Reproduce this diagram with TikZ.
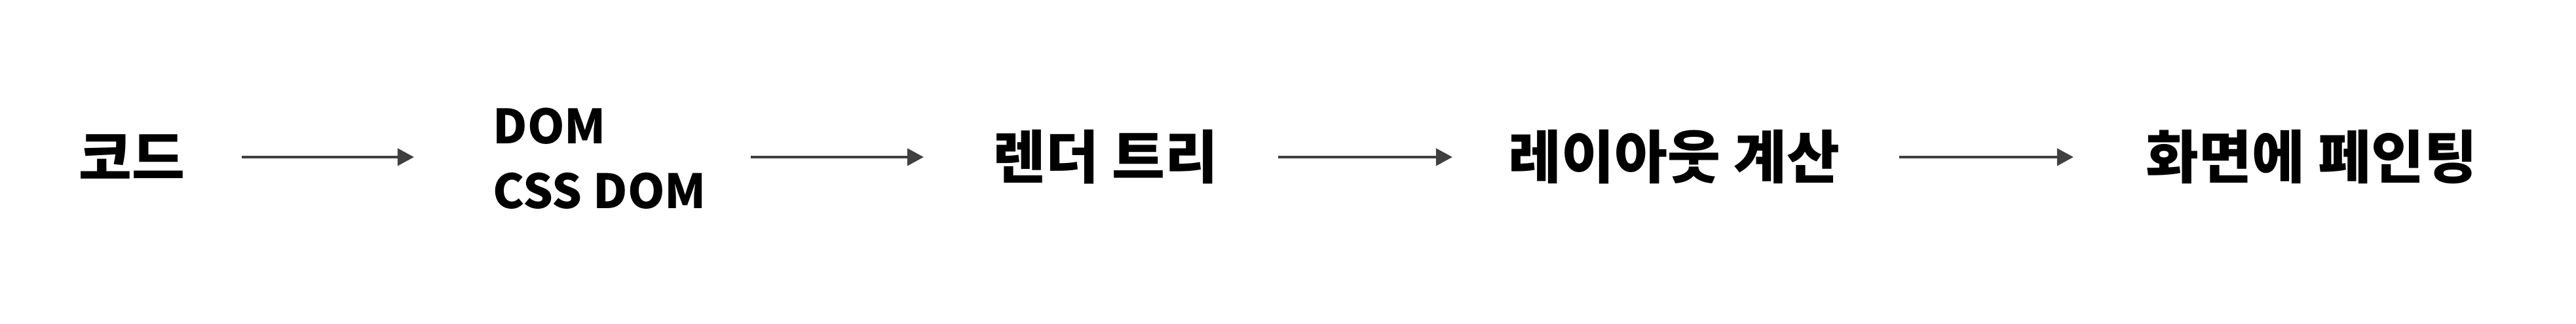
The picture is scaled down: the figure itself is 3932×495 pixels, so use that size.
\documentclass[tikz,border=0pt]{standalone}
\usepackage{fontspec}
\setmainfont{Noto Sans CJK KR}
\usetikzlibrary{arrows.meta}
\definecolor{arrowgray}{HTML}{404040}
\tikzstyle{stage}=[anchor=west,inner sep=0pt,font=\bfseries\fontsize{25}{28}\selectfont]
\tikzstyle{latin}=[font=\bfseries\fontsize{20.5}{28}\selectfont]
\tikzstyle{edge} = [draw,arrowgray,line width=1.15pt,-{Triangle[length=0.25cm,width=0.26cm]}]

\begin{document}
\begin{tikzpicture}[x=0.01cm,y=0.01cm]
        \useasboundingbox (0,0) rectangle (3932,495);
        \node[stage] (code) at (120,255) {코드};
        \node[stage,latin,align=left] (dom) at (752,253) {DOM\\CSS DOM};
        \node[stage] (render) at (1515,255) {렌더 트리};
        \node[stage] (layout) at (2302,255) {레이아웃 계산};
        \node[stage] (paint) at (3275,255) {화면에 페인팅};
        \path[edge,shorten <=2.49cm,shorten >=1.20cm] (code.west) -- (dom.west |- code.west);
        \path[edge,shorten <=3.94cm,shorten >=1.05cm] (dom.west |- code.west) -- (render.west);
        \path[edge,shorten <=4.36cm,shorten >=0.85cm] (render.west) -- (layout.west);
        \path[edge,shorten <=5.97cm,shorten >=1.10cm] (layout.west) -- (paint.west);
    \end{tikzpicture}
\end{document}
